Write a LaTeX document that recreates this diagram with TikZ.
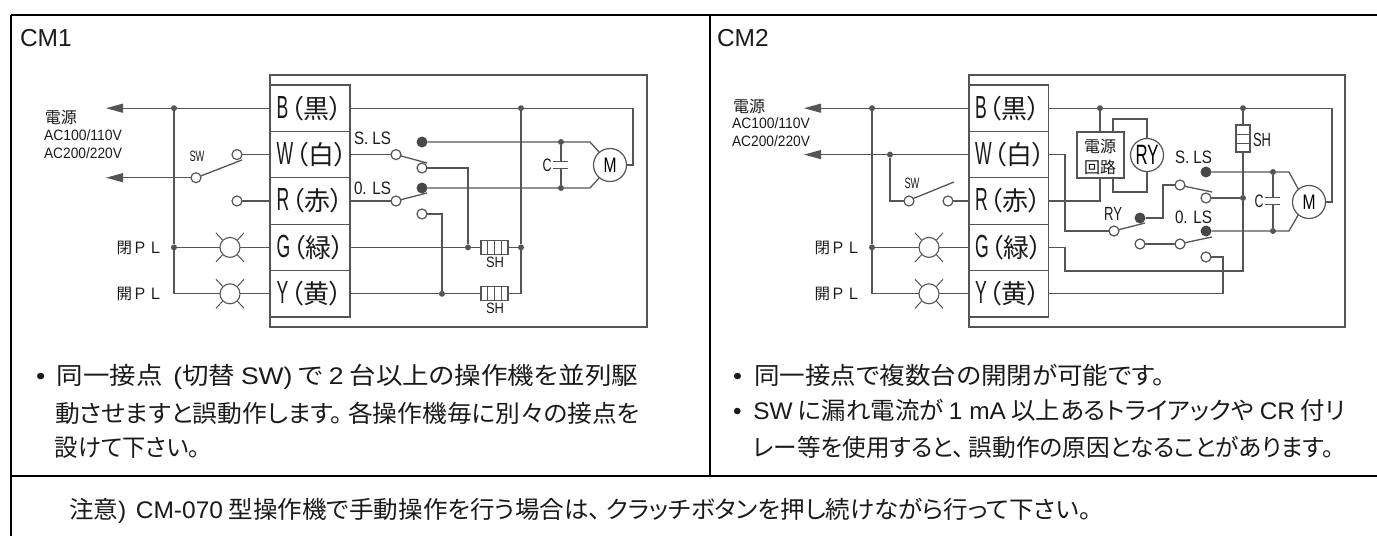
\documentclass[tikz,border=0pt]{standalone}
\usepackage{fontspec}
\usepackage{graphicx}
\usetikzlibrary{arrows.meta}
\setmainfont{Liberation Sans}
\newfontfamily\la{Liberation Sans}
\newfontfamily\lan[FakeStretch=0.55]{Liberation Sans}
\newfontfamily\cj[RawFeature=+palt]{Noto Sans CJK JP}
\newfontfamily\cjf{Noto Sans CJK JP}
\definecolor{wirec}{HTML}{555555}
\definecolor{inkc}{HTML}{1A1A1A}
\newcommand\fitw[2]{\resizebox{#1pt}{\height}{#2}}
\newcommand\sz[1]{\fontsize{#1}{#1}\selectfont}
% Latin label squeezed to a width: width, font size, text
\newcommand\lab[3]{\fitw{#1}{\la\sz{#2}#3}}
% terminal label: letter, kanji
\newcommand\tlab[2]{\makebox[67pt][l]{{\lan\sz{32}#1}\hspace{2pt}{\cj\sz{26}（#2）}}}
\newcommand\rays[1]{%
  \draw[thinw] ([shift={(-14,-14.5)}]#1.center) -- ([shift={(-7.5,-7.5)}]#1.center);
  \draw[thinw] ([shift={(14,-14.5)}]#1.center) -- ([shift={(7.5,-7.5)}]#1.center);
  \draw[thinw] ([shift={(-14,14.5)}]#1.center) -- ([shift={(-7.5,7.5)}]#1.center);
  \draw[thinw] ([shift={(14,14.5)}]#1.center) -- ([shift={(7.5,7.5)}]#1.center);}
\tikzset{
  wire/.style={draw=wirec,line width=1.3pt},
  thinw/.style={draw=wirec,line width=1pt},
  arrowwire/.style={wire,-{Triangle[length=17pt,width=9pt]}},
  framebox/.style={draw=wirec,line width=1.2pt,inner sep=0pt,outer sep=0pt},
  term/.style={framebox,minimum width=80pt,minimum height=46.4pt,text=inkc},
  cont/.style={circle,draw=wirec,fill=white,line width=1.2pt,minimum size=10pt,inner sep=0pt,outer sep=0pt},
  fdot/.style={circle,fill=wirec!85!black,minimum size=11pt,inner sep=0pt,outer sep=0pt},
  jdot/.style={circle,fill=wirec,minimum size=6pt,inner sep=0pt,outer sep=0pt},
  lamp/.style={circle,draw=wirec,fill=white,line width=1.1pt,minimum size=20pt,inner sep=0pt,outer sep=0pt},
  motor/.style={circle,draw=wirec,fill=white,line width=1.2pt,minimum size=33pt,inner sep=0pt,outer sep=0pt},
  txt/.style={inner sep=0pt,outer sep=0pt,text=inkc},
  cjs/.style={txt,font=\cj\sz{16}},
  plc/.style={txt,anchor=east,font=\cjf\sz{15.5}},
  body/.style={txt,anchor=west,font=\cj\sz{24}},
  tbl/.style={draw=black,line width=1.2pt},
  tblb/.style={draw=black,line width=2.2pt},
}
\begin{document}
\begin{tikzpicture}[x=1pt,y=-1pt]
\useasboundingbox (0,0) rectangle (1377,536);
% table
\coordinate (tl) at (11,15); \coordinate (tr) at (1377,15);
\coordinate (ml) at (11,476); \coordinate (mr) at (1377,476);
\coordinate (tm) at (710,15); \coordinate (mm) at (710,476);
\coordinate (bl) at (11,536);
\draw[tbl] (tl) -- (bl);
\draw[tbl] (tm) -- (mm);
\draw[tblb] (tl) -- (tr);
\draw[tblb] (ml) -- (mr);
\node[txt,anchor=west,font=\la\sz{24.5}] (cm1) at (20,38) {CM1};
\node[txt,anchor=west,font=\la\sz{24.5}] (cm2) at (717,38) {CM2};

%% ===== CM1 =====
\node[framebox,minimum width=377pt,minimum height=252pt] (aout) at (458.5,201) {};
\node[term] (aB) at (310,108.2) {\tlab{B}{黒}};
\node[term] (aW) at (310,154.6) {\tlab{W}{白}};
\node[term] (aR) at (310,201) {\tlab{R}{赤}};
\node[term] (aG) at (310,247.4) {\tlab{G}{緑}};
\node[term] (aY) at (310,293.8) {\tlab{Y}{黄}};
\node[txt,anchor=west] (apw) at (45,117) {\cj\sz{16}電源};
\node[txt,anchor=west] (aac1) at (44,135) {\lab{78}{15}{AC100/110V}};
\node[txt,anchor=west] (aac2) at (44,153) {\lab{78}{15}{AC200/220V}};
\node[txt] (asw) at (197,156) {\lab{15}{15}{SW}};
\node[plc] (apg) at (163,248) {閉ＰＬ};
\node[plc] (apy) at (163,294) {開ＰＬ};
\coordinate (atip1) at (106,108.2);
\coordinate (atip2) at (106,177.7);
\node[jdot] (aj1) at (174,108.2) {};
\node[jdot] (aj2) at (174,247.4) {};
\node[cont] (asw0) at (196,177.7) {};
\node[cont] (asw1) at (237,154.6) {};
\node[cont] (asw2) at (237,201) {};
\coordinate (asw3) at (242,160);
\node[lamp] (alg) at (230,247.4) {};
\node[lamp] (aly) at (230,293.8) {};
\rays{alg} \rays{aly}
\draw[arrowwire] (aj1) -- (atip1);
\draw[arrowwire] (asw0) -- (atip2);
\draw[wire] (aB) -- (aj1);
\draw[wire] (aj1) -- (aj2);
\draw[wire] (aj2) |- (aly);
\draw[wire] (aj2) -- (alg);
\draw[wire] (alg) -- (aG);
\draw[wire] (aly) -- (aY);
\draw[wire] (asw1) -- (aW);
\draw[wire] (asw2) -- (aR);
\draw[wire] (asw0.20) -- (asw3);
% right part
\node[motor] (aM) at (610,165) {\lab{13}{21}{M}};
\coordinate (acor) at (633,108.2);
\coordinate (acor2) at (633,165);
\node[jdot] (aj3) at (521,108.2) {};
\node[jdot] (aj4) at (521,247.4) {};
\node[jdot] (aj5) at (468,247.4) {};
\node[jdot] (aj6) at (442,293.8) {};
\node[jdot] (aj7) at (561,142) {};
\node[jdot] (aj8) at (561,188) {};
\node[cont] (as1) at (396,154.6) {};
\node[cont] (as2) at (422,168) {};
\node[fdot] (as3) at (422,142) {};
\node[cont] (ao1) at (396,201) {};
\node[cont] (ao2) at (422,214) {};
\node[fdot] (ao3) at (422,188) {};
\coordinate (asb) at (427,163);
\coordinate (aob) at (427,193);
\node[txt,anchor=west] (asl) at (354,138) {\lab{37}{18}{S. LS}};
\node[txt,anchor=west] (aol) at (354,188) {\lab{37}{18}{0. LS}};
\node[txt] (acl) at (547,165) {\lab{9}{18}{C}};
\coordinate (acp1) at (561,161.5); \coordinate (acp2) at (561,168.5);
\coordinate (acp1l) at (553,161.5); \coordinate (acp1r) at (568,161.5);
\coordinate (acp2l) at (553,168.5); \coordinate (acp2r) at (568,168.5);
\coordinate (am1) at (590,142); \coordinate (am2) at (590,188);
\node[framebox,minimum width=27pt,minimum height=14pt] (ash1) at (494.5,247.4) {};
\node[framebox,minimum width=27pt,minimum height=14pt] (ash2) at (494.5,293.8) {};
\foreach \n in {ash1,ash2}{
  \draw[thinw] ([xshift=-6.75pt]\n.north) -- ([xshift=-6.75pt]\n.south);
  \draw[thinw] (\n.north) -- (\n.south);
  \draw[thinw] ([xshift=6.75pt]\n.north) -- ([xshift=6.75pt]\n.south);}
\node[txt] (ashl1) at (495,262) {\lab{18}{15}{SH}};
\node[txt] (ashl2) at (495,308) {\lab{18}{15}{SH}};
\draw[wire] (aB) -- (aj3);
\draw[wire] (aj3) -- (acor) -- (acor2) -- (aM.east);
\draw[wire] (aj3) -- (aj4);
\draw[wire] (aj4) |- (ash2.east);
\draw[wire] (aj4) -- (ash1.east);
\draw[wire] (aG) -- (ash1.west);
\draw[wire] (aY) -- (ash2.west);
\draw[wire] (aW) -- (as1);
\draw[wire] (aR) -- (ao1);
\draw[wire] (as1.-15) -- (asb);
\draw[wire] (ao1.15) -- (aob);
\draw[wire] (as2) -| (aj5);
\draw[wire] (ao2) -| (aj6);
\draw[wire] (as3) -- (am1) -- (aM.130);
\draw[wire] (ao3) -- (am2) -- (aM.230);
\draw[wire] (aj7) -- (acp1);
\draw[wire] (acp2) -- (aj8);
\draw[wire] (acp1l) -- (acp1r);
\draw[wire] (acp2l) -- (acp2r);

%% ===== CM2 =====
\node[framebox,minimum width=376pt,minimum height=252pt] (bout) at (1157,201) {};
\node[term] (bB) at (1008.5,108.2) {\tlab{B}{黒}};
\node[term] (bW) at (1008.5,154.6) {\tlab{W}{白}};
\node[term] (bR) at (1008.5,201) {\tlab{R}{赤}};
\node[term] (bG) at (1008.5,247.4) {\tlab{G}{緑}};
\node[term] (bY) at (1008.5,293.8) {\tlab{Y}{黄}};
\node[txt,anchor=west] (bpw) at (733,106) {\cj\sz{16}電源};
\node[txt,anchor=west] (bac1) at (732,123) {\lab{78}{15}{AC100/110V}};
\node[txt,anchor=west] (bac2) at (732,141) {\lab{78}{15}{AC200/220V}};
\node[txt] (bsw) at (912,183) {\lab{15}{15}{SW}};
\node[plc] (bpg) at (861,248) {閉ＰＬ};
\node[plc] (bpy) at (861,294) {開ＰＬ};
\coordinate (btip1) at (804,108.2);
\coordinate (btip2) at (804,154.6);
\node[jdot] (bj1) at (872,108.2) {};
\node[jdot] (bj2) at (872,247.4) {};
\node[jdot] (bj3) at (890,154.6) {};
\node[cont] (bsw0) at (909,201) {};
\node[cont] (bsw1) at (948,201) {};
\coordinate (bsw3) at (954,182);
\node[lamp] (blg) at (929,247.4) {};
\node[lamp] (bly) at (929,293.8) {};
\rays{blg} \rays{bly}
\draw[arrowwire] (bj1) -- (btip1);
\draw[arrowwire] (bj3) -- (btip2);
\draw[wire] (bB) -- (bj1);
\draw[wire] (bW) -- (bj3);
\draw[wire] (bj3) |- (bsw0);
\draw[wire] (bj1) -- (bj2);
\draw[wire] (bj2) |- (bly);
\draw[wire] (bj2) -- (blg);
\draw[wire] (blg) -- (bG);
\draw[wire] (bly) -- (bY);
\draw[wire] (bsw1) -- (bR);
\draw[wire] (bsw0.30) -- (bsw3);
% right part
\coordinate (bry1) at (1113,132); \coordinate (bry2) at (1113,119); \coordinate (bry3) at (1147,119);
\coordinate (bry4) at (1147,192); \coordinate (bry5) at (1113,192); \coordinate (bry6) at (1113,178);
\coordinate (bry7) at (1147,139); \coordinate (bry8) at (1147,172);
\draw[wire] (bry1) -- (bry2) -- (bry3) -- (bry7);
\draw[wire] (bry8) -- (bry4) -- (bry5) -- (bry6);
\node[framebox,fill=white,minimum width=47pt,minimum height=46pt] (bpc) at (1100.5,155) {};
\node[cjs] (bpct1) at (1100,146) {電源};
\node[cjs] (bpct2) at (1100,167) {回路};
\node[motor] (bRY) at (1147,155) {\lab{23}{28}{RY}};
\node[motor] (bM) at (1309,202) {\lab{13}{21}{M}};
\coordinate (bcor) at (1332,108.2);
\coordinate (bcor2) at (1332,202);
\node[jdot] (bj4) at (1100,108.2) {};
\node[jdot] (bj5) at (1243,108.2) {};
\node[jdot] (bj6) at (1243,198) {};
\node[jdot] (bj7) at (1273,172) {};
\node[jdot] (bj8) at (1273,231) {};
\coordinate (brc) at (1100,201);
\coordinate (bwc1) at (1065,154.6);
\coordinate (bwc2) at (1065,231);
\coordinate (bgc1) at (1065,247.4);
\coordinate (bgc2) at (1065,271);
\coordinate (bgc3) at (1243,271);
\coordinate (byc) at (1223,293.8);
\node[cont] (brr) at (1114,231) {};
\node[fdot] (brf) at (1140,218) {};
\coordinate (brb) at (1145,223);
\coordinate (bl1) at (1163,218); \coordinate (bl2) at (1163,185);
\node[cont] (bs1) at (1180,185) {};
\coordinate (bsb) at (1212,192);
\node[cont] (bs2) at (1206,198) {};
\node[fdot] (bs3) at (1206,172) {};
\node[fdot] (bo3) at (1206,231) {};
\node[cont] (bo0) at (1140,244) {};
\node[cont] (bo1) at (1180,244) {};
\coordinate (bob) at (1212,237);
\node[cont] (bo2) at (1206,257) {};
\node[txt,anchor=west] (bsl) at (1175,157) {\lab{37}{18}{S. LS}};
\node[txt,anchor=west] (bol) at (1175,217) {\lab{37}{18}{0. LS}};
\node[txt] (brl) at (1113,214) {\lab{18}{19}{RY}};
\node[txt] (bcl) at (1259,201) {\lab{9}{18}{C}};
\coordinate (bcp1) at (1273,197.5); \coordinate (bcp2) at (1273,204.5);
\coordinate (bcp1l) at (1265,197.5); \coordinate (bcp1r) at (1280,197.5);
\coordinate (bcp2l) at (1265,204.5); \coordinate (bcp2r) at (1280,204.5);
\coordinate (bm1) at (1289,172); \coordinate (bm2) at (1289,231);
\node[framebox,minimum width=14pt,minimum height=27pt] (bsh) at (1243,138.5) {};
\draw[thinw] ([yshift=4.5pt]bsh.west) -- ([yshift=4.5pt]bsh.east);
\draw[thinw] ([yshift=-4.5pt]bsh.west) -- ([yshift=-4.5pt]bsh.east);
\node[txt,anchor=west] (bshl) at (1253,140) {\lab{18}{19}{SH}};
\draw[wire] (bB) -- (bj4);
\draw[wire] (bj4) -- (bj5);
\draw[wire] (bj5) -- (bcor) -- (bcor2) -- (bM.east);
\draw[wire] (bj4) -- (bpc.north -| bj4);
\draw[wire] (bpc.south -| brc) -- (brc) -- (bR.east |- brc);
\draw[wire] (bW) -- (bwc1) -- (bwc2) -- (brr);
\draw[wire] (brr.15) -- (brb);
\draw[wire] (brf) -- (bl1) -- (bl2) -- (bs1);
\draw[wire] (bs1.-15) -- (bsb);
\draw[wire] (bs2) -- (bj6);
\draw[wire] (bs3) -- (bm1) -- (bM.130);
\draw[wire] (bo3) -- (bm2) -- (bM.230);
\draw[wire] (bo0) -- (bo1);
\draw[wire] (bo1.15) -- (bob);
\draw[wire] (bo2) -| (byc) -- (bY.east |- byc);
\draw[wire] (bG) -- (bgc1) -- (bgc2) -- (bgc3) -- (bj6);
\draw[wire] (bj6) -- (bsh.south);
\draw[wire] (bsh.north) -- (bj5);
\draw[wire] (bj7) -- (bcp1);
\draw[wire] (bcp2) -- (bj8);
\draw[wire] (bcp1l) -- (bcp1r);
\draw[wire] (bcp2l) -- (bcp2r);

%% ===== body text =====
\node[body] (t1a) at (36,377) {\fitw{602}{\makebox[19pt][l]{\la •}同一接点 \,{\la (}切替 {\la SW)} で {\la 2} 台以上の操作機を並列駆}};
\node[body] (t1b) at (55,413) {\fitw{585}{動させますと誤動作します。\hspace{5pt}各操作機毎に別々の接点を}};
\node[body] (t1c) at (55,448) {\fitw{145}{設けて下さい。}};
\node[body] (t2a) at (733,375) {\fitw{432}{\makebox[20pt][l]{\la •}同一接点で複数台の開閉が可能です。}};
\node[body] (t2b) at (733,410) {\fitw{612}{\makebox[20pt][l]{\la •}{\la SW} に漏れ電流が {\la 1 mA} 以上あるトライアックや {\la CR} 付リ}};
\node[body] (t2c) at (753,447) {\fitw{581}{レー等を使用すると、\hspace{5pt}誤動作の原因となることがあります。}};
\node[body] (t3) at (69,511) {\fitw{1022}{注意{\la )} \,{\la CM-070} 型操作機で手動操作を行う場合は、\hspace{5pt}クラッチボタンを押し続けながら行って下さい。}};
\end{tikzpicture}
\end{document}
